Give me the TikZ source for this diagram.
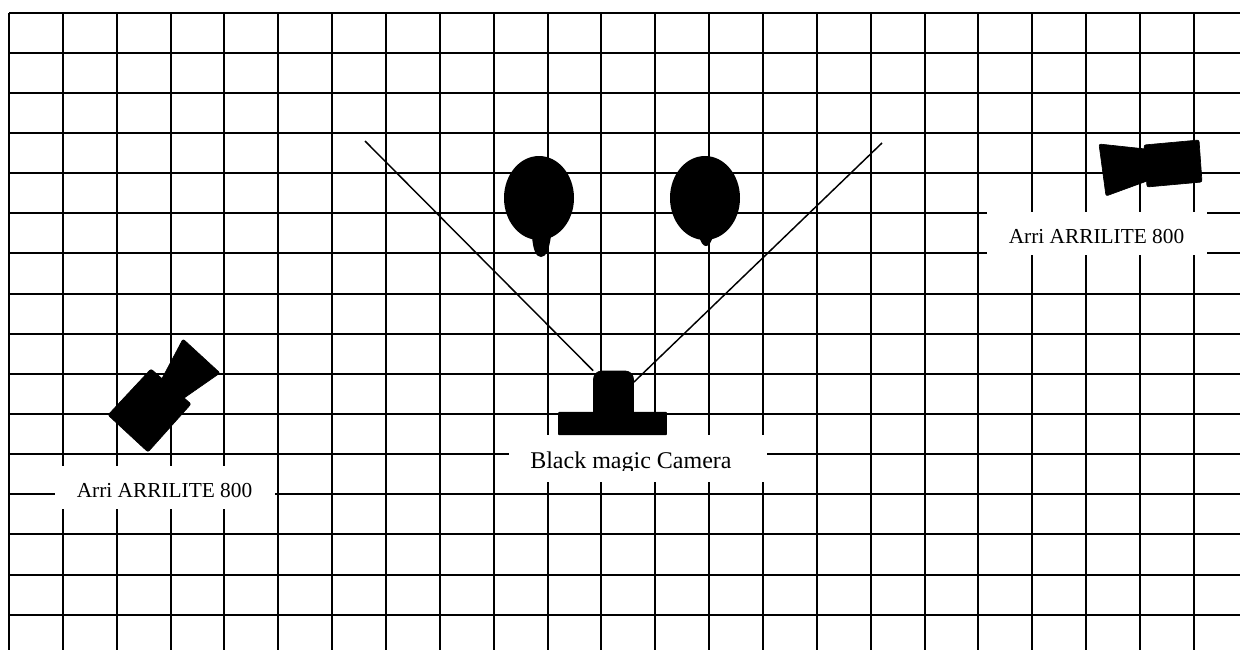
\documentclass[tikz,border=0pt]{standalone}
\usepackage{fontspec}
\setmainfont{Liberation Serif}
\usetikzlibrary{shapes.geometric, positioning, calc}

\begin{document}
\begin{tikzpicture}[
    x=0.75pt, y=-0.75pt,
    gridln/.style={draw=black, line width=1.5pt},
    viewln/.style={draw=black, line width=1.1pt},
    solid/.style={fill=black, draw=black, line width=0.5pt, rounded corners=1.5pt},
    head/.style={ellipse, fill=black, draw=none, minimum width=52.5pt, minimum height=63pt, inner sep=0pt},
    lblbox/.style={rectangle, fill=white, draw=none, minimum width=165pt, minimum height=32.25pt, inner sep=0pt},
    lbl/.style={font=\fontsize{16}{18}\selectfont, inner sep=0pt, anchor=base}
]

\useasboundingbox (0,0) rectangle (1240,650);
\fill[white] (0,0) rectangle (1240,650);

% Grid
\foreach \i in {0,...,22}
    \draw[gridln] ({9+53.86*\i},12.7) -- ({9+53.86*\i},650);
\foreach \j in {0,...,15}
    \draw[gridln] (9,{12.7+40.13*\j}) -- (1240,{12.7+40.13*\j});

% Label backgrounds
\node[lblbox] (boxleft) at (165,487.5) {};
\node[lblbox] (boxright) at (1097,233.5) {};
\node[lblbox, minimum width=193.5pt, minimum height=35.25pt] (boxcam) at (638,458.5) {};

% Labels
\node[lbl] (lblleft) at (164.5,497) {Arri ARRILITE 800};
\node[lbl] (lblright) at (1096.5,243) {Arri ARRILITE 800};
\begin{scope}
    \clip (509,435) rectangle (767,470);
    \node[lbl, font=\fontsize{18}{20}\selectfont, anchor=base west] (lblcam) at (530,468) {Black magic Camera};
\end{scope}

% Field of view
\coordinate (viewleft) at (365,141);
\coordinate (viewright) at (882,143);
\coordinate (camright) at (634,382);
\node[solid, rectangle, minimum width=30pt, minimum height=40pt, inner sep=0pt, rounded corners=6pt] (cambody) at (613.5,397.7) {};
\draw[viewln] (viewleft) -- (cambody.north west);
\draw[viewln] (viewright) -- (camright);

% Camera
\node[solid, rectangle, minimum width=81pt, minimum height=17pt, inner sep=0pt, rounded corners=0.6pt] (cambase) at (612.5,423.5) {};

% People
\node[head] (headleft) at (539,198) {};
\node[head] (headright) at (705,198) {};
\fill[black] (532,236) .. controls (533,250) and (536,257) .. (541,257) .. controls (546,257) and (549,250) .. (551,236) -- cycle;
\fill[black] (699,236) .. controls (701,243) and (703,246) .. (706,246) .. controls (709,246) and (711,243) .. (713,236) -- cycle;

% Left light
\draw[solid] (183,339) -- (220,373) -- (174,405) -- (157,388) -- cycle;
\draw[solid] (108,415) -- (151,369) -- (191,404) -- (148,452) -- cycle;

% Right light
\draw[solid] (1099,144) -- (1155,150) -- (1158,177) -- (1106,196) -- cycle;
\draw[solid] (1144,145) -- (1199,140) -- (1202,182) -- (1147,187) -- cycle;

\end{tikzpicture}
\end{document}
